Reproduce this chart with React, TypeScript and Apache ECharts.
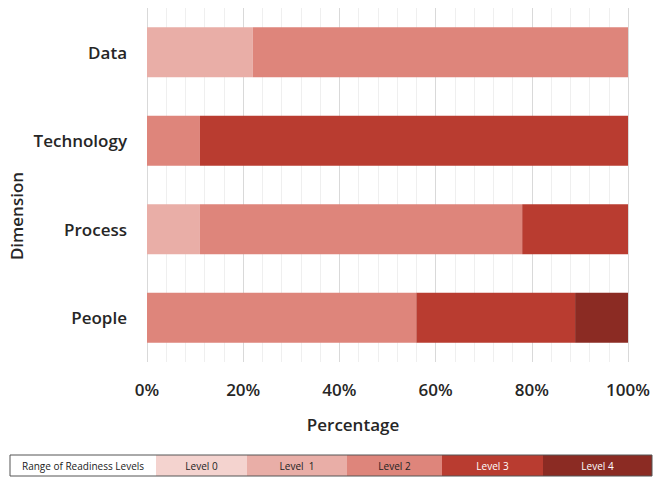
import React, { useEffect, useRef } from "react";
import * as echarts from "echarts";

const categories = ["Data", "Technology", "Process", "People"];
const level1 = [22, 0, 11, 0];
const level2 = [78, 11, 67, 56];
const level3 = [0, 89, 22, 33];
const level4 = [0, 0, 0, 11];
const legendLabels = ["Range of Readiness Levels", "Level 0", "Level  1", "Level 2", "Level 3", "Level 4"];
const legendColors = ["#ffffff", "#f4d3cf", "#e9aea7", "#de857b", "#b93c30", "#8b2b23"];
const legendTextColors = ["#222", "#222", "#222", "#222", "#ffffff", "#ffffff"];
const legendEdges = [10, 156, 247, 347, 442, 543, 652];

const FONT = "Open Sans";
const TXT = "#262626";
const W = 600;

export default function App() {
  const ref = useRef<HTMLDivElement>(null);
  useEffect(() => {
    const chart = echarts.init(ref.current!, null, { renderer: "svg" });
    const mk = (name: string, data: number[], color: string) => ({
      name,
      type: "bar",
      stack: "total",
      data,
      barWidth: 50,
      itemStyle: { color },
    });
    const legendGraphics: any[] = [];
    for (let i = 0; i < legendLabels.length; i++) {
      const x0 = legendEdges[i];
      const x1 = legendEdges[i + 1];
      legendGraphics.push({
        type: "rect",
        shape: { x: x0, y: 455, width: x1 - x0, height: 21 },
        style: { fill: legendColors[i], stroke: "none" },
      });
      legendGraphics.push({
        type: "text",
        x: (x0 + x1) / 2,
        y: 465.5,
        style: {
          text: legendLabels[i],
          fill: legendTextColors[i],
          font: `10px ${FONT}`,
          align: "center",
          verticalAlign: "middle",
        },
      });
    }
    legendGraphics.push({
      type: "rect",
      shape: { x: 10, y: 455, width: 642, height: 21 },
      style: { fill: "none", stroke: "#555", lineWidth: 1 },
    });
    legendGraphics.push({
      type: "text",
      x: 353,
      y: 424,
      style: {
        text: "Percentage",
        fill: TXT,
        font: `${W} 17px ${FONT}`,
        align: "center",
        verticalAlign: "middle",
      },
    });
    legendGraphics.push({
      type: "text",
      x: 16,
      y: 216,
      rotation: Math.PI / 2,
      style: {
        text: "Dimension",
        fill: TXT,
        font: `${W} 17px ${FONT}`,
        align: "center",
        verticalAlign: "middle",
      },
    });
    chart.setOption({
      animation: false,
      textStyle: { fontFamily: FONT },
      grid: { left: 147, right: 26, top: 8, bottom: 115 },
      xAxis: {
        type: "value",
        min: 0,
        max: 100,
        interval: 20,
        axisLabel: {
          formatter: "{value}%",
          fontSize: 17,
          fontWeight: W,
          color: TXT,
          margin: 19,
          fontFamily: FONT,
        },
        axisLine: { show: false },
        axisTick: { show: false },
        splitLine: { show: true, lineStyle: { color: "#d9d9d9", width: 1 } },
        minorTick: { show: false, splitNumber: 5 },
        minorSplitLine: { show: true, lineStyle: { color: "#efefef", width: 1 } },
      },
      yAxis: {
        type: "category",
        data: categories,
        inverse: true,
        axisLine: { show: false },
        axisTick: { show: false },
        axisLabel: { fontSize: 17, fontWeight: W, color: TXT, margin: 20, fontFamily: FONT },
      },
      series: [
        mk("Level 1", level1, legendColors[2]),
        mk("Level 2", level2, legendColors[3]),
        mk("Level 3", level3, legendColors[4]),
        mk("Level 4", level4, legendColors[5]),
      ],
      graphic: legendGraphics,
    });
    return () => chart.dispose();
  }, []);
  return <div ref={ref} style={{ width: 654, height: 477, position: "absolute", left: 0, top: 0 }} />;
}
